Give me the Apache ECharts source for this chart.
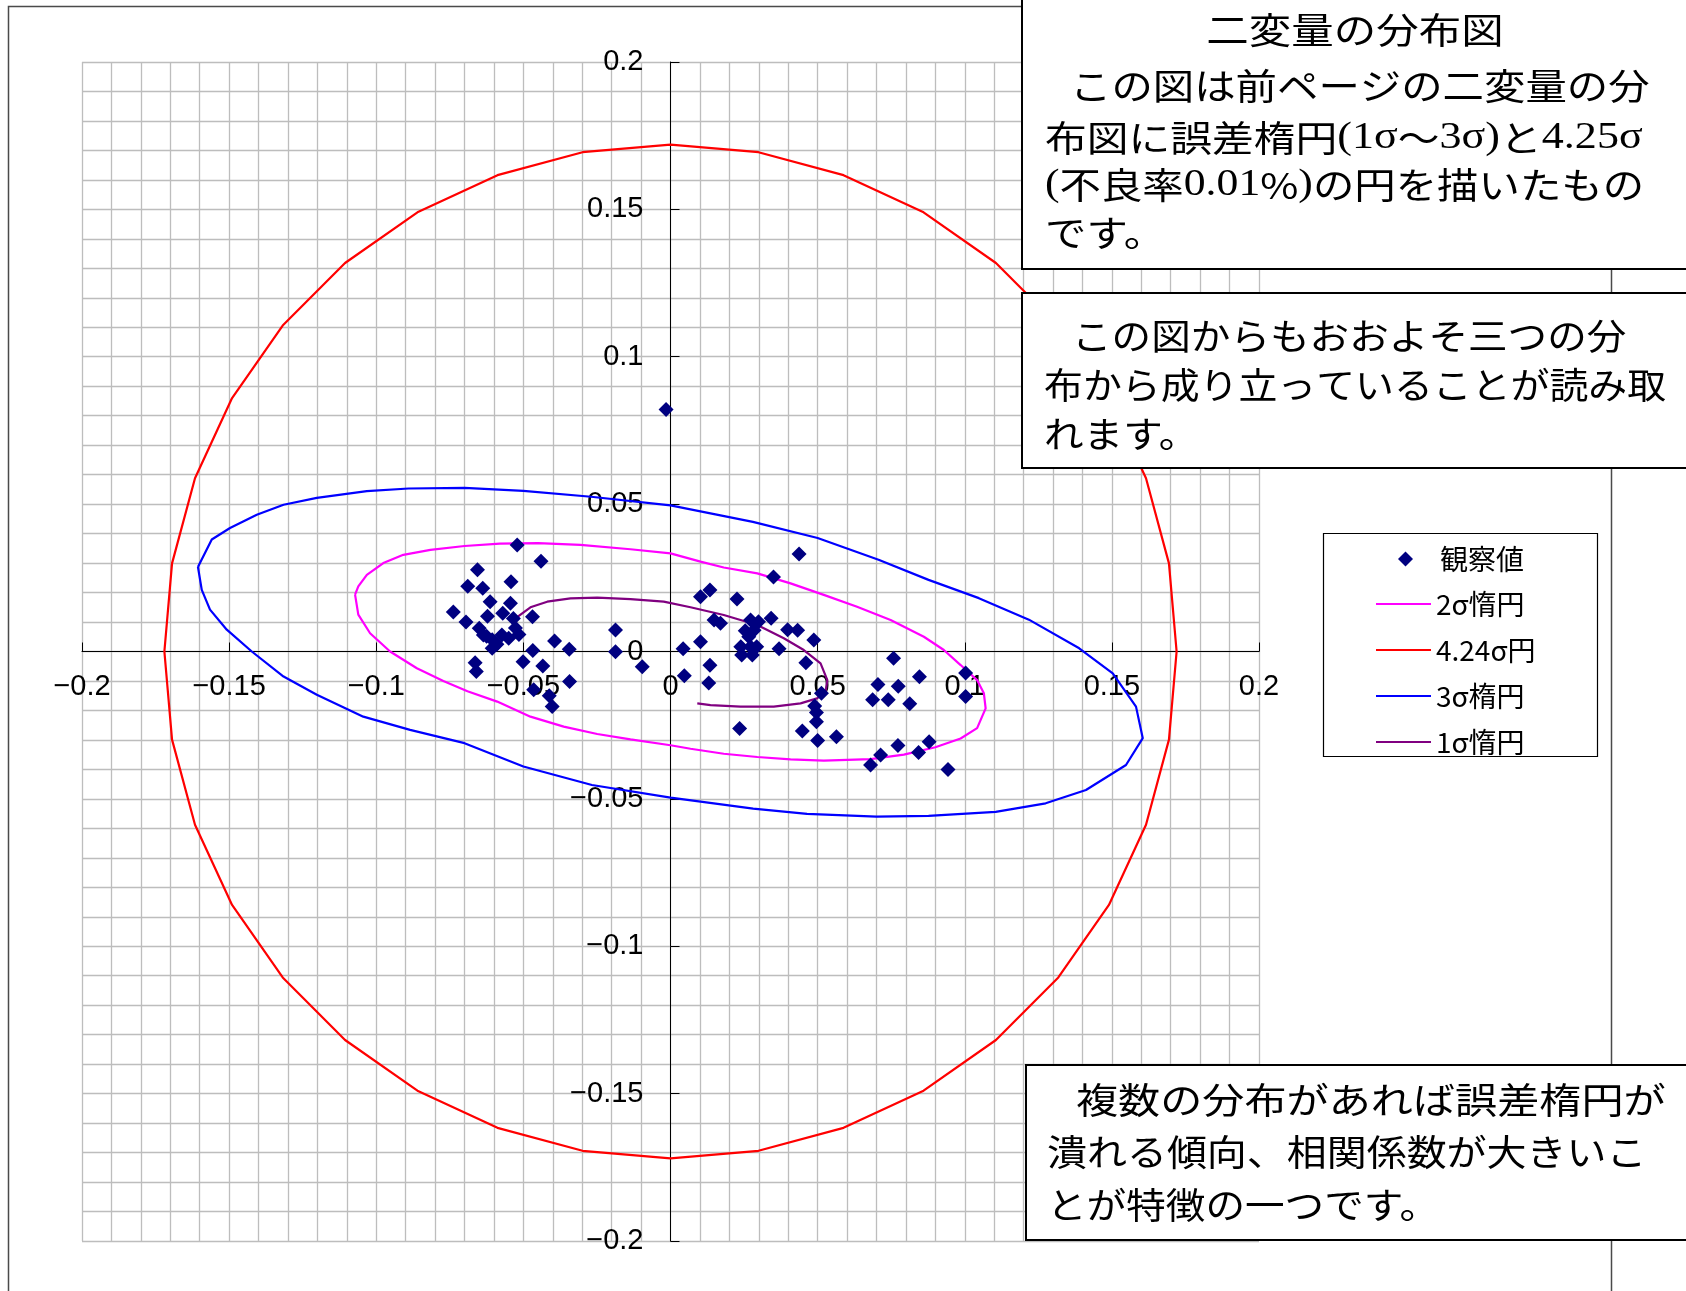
<!DOCTYPE html>
<html>
<head>
<meta charset="utf-8">
<title>二変量の分布図</title>
<script src="https://cdn.jsdelivr.net/npm/echarts@6/dist/echarts.min.js"></script>
<style>
  html, body { margin: 0; padding: 0; background: #fff; }
  #chart { width: 1686px; height: 1291px; }
</style>
</head>
<body>
<div id="chart"></div>
<script>
// axis range and ticks
var axisMin = -0.2;
var axisMax = 0.2;
var labelStep = 0.05;
var gridSplit = 5; // minor grid every 0.01

var legendNames = ['観察値', '2σ惰円', '4.24σ円', '3σ楕円', '1σ惰円'];

// observed points [x, y]
var observed = [
  [-0.0521, 0.0361], [-0.0440, 0.0306], [-0.0656, 0.0277], [-0.0689, 0.0221],
  [-0.0638, 0.0215], [-0.0542, 0.0237], [-0.0613, 0.0169], [-0.0544, 0.0164],
  [-0.0738, 0.0134], [-0.0622, 0.0120], [-0.0570, 0.0130], [-0.0469, 0.0118],
  [-0.0695, 0.0100], [-0.0650, 0.0079], [-0.0534, 0.0112], [-0.0527, 0.0080],
  [-0.0515, 0.0058], [-0.0636, 0.0056], [-0.0606, 0.0040], [-0.0573, 0.0056],
  [-0.0606, 0.0011], [-0.0590, 0.0025], [-0.0550, 0.0045], [-0.0625, 0.0052],
  [-0.0664, -0.0038], [-0.0660, -0.0068], [-0.0394, 0.0036], [-0.0344, 0.0008],
  [-0.0468, 0.0003], [-0.0501, -0.0035], [-0.0434, -0.0049], [-0.0343, -0.0102],
  [-0.0465, -0.0130], [-0.0412, -0.0150], [-0.0402, -0.0187],
  [-0.0187, 0.0073], [-0.0187, -0.0001], [-0.0096, -0.0052], [-0.0015, 0.0821],
  [0.0043, 0.0009], [0.0047, -0.0082], [0.0102, 0.0033], [0.0134, -0.0047],
  [0.0130, -0.0107], [0.0102, 0.0186], [0.0134, 0.0209], [0.0148, 0.0107],
  [0.0170, 0.0096], [0.0226, 0.0178], [0.0235, -0.0261], [0.0350, 0.0253],
  [0.0437, 0.0331], [0.0272, 0.0107], [0.0299, 0.0101], [0.0342, 0.0113],
  [0.0254, 0.0070], [0.0284, 0.0072], [0.0266, 0.0050], [0.0239, 0.0016],
  [0.0272, 0.0016], [0.0293, 0.0016], [0.0242, -0.0012], [0.0278, -0.0012],
  [0.0369, 0.0009], [0.0398, 0.0074], [0.0432, 0.0072], [0.0487, 0.0039],
  [0.0460, -0.0038], [0.0513, -0.0142], [0.0490, -0.0185], [0.0496, -0.0207],
  [0.0496, -0.0238], [0.0448, -0.0270], [0.0500, -0.0302], [0.0564, -0.0289],
  [0.0758, -0.0023], [0.0846, -0.0086], [0.1003, -0.0073], [0.0705, -0.0112],
  [0.0774, -0.0118], [0.0687, -0.0164], [0.0740, -0.0164], [0.0813, -0.0177],
  [0.1003, -0.0153], [0.0879, -0.0306], [0.0773, -0.0319], [0.0843, -0.0343],
  [0.0714, -0.0351], [0.0680, -0.0385], [0.0943, -0.0400]
];

// 2 sigma ellipse
var ellipse2 = [
  [-0.1072, 0.0193], [-0.1061, 0.0221], [-0.1032, 0.0260], [-0.0976, 0.0300],
  [-0.0908, 0.0328], [-0.0816, 0.0345], [-0.0700, 0.0358], [-0.0580, 0.0366],
  [-0.0450, 0.0368], [-0.0306, 0.0362], [-0.0136, 0.0347], [0, 0.0333],
  [0.0102, 0.0305], [0.0181, 0.0285], [0.0295, 0.0265], [0.0408, 0.0231],
  [0.0521, 0.0192], [0.0634, 0.0152], [0.0748, 0.0107], [0.0861, 0.0050],
  [0.0929, 0.0005], [0.0986, -0.0046], [0.1042, -0.0097], [0.1065, -0.0142],
  [0.1071, -0.0193], [0.1042, -0.0260], [0.0986, -0.0295], [0.0900, -0.0325],
  [0.0793, -0.0350], [0.0680, -0.0365], [0.0521, -0.0370], [0.0408, -0.0366],
  [0.0295, -0.0358], [0.0181, -0.0347], [0.0068, -0.0330], [0, -0.0318],
  [-0.0136, -0.0298], [-0.0249, -0.0280], [-0.0363, -0.0255], [-0.0476, -0.0221],
  [-0.0589, -0.0170], [-0.0690, -0.0135], [-0.0772, -0.0100], [-0.0862, -0.0057],
  [-0.0953, 0], [-0.1021, 0.0062], [-0.1061, 0.0125], [-0.1072, 0.0193]
];

// 4.24 sigma circle
var circle424 = [
  [0.1720, 0], [0.1694, 0.0299], [0.1616, 0.0588], [0.1490, 0.0860],
  [0.1318, 0.1106], [0.1106, 0.1318], [0.0860, 0.1490], [0.0588, 0.1616],
  [0.0299, 0.1694], [0, 0.1720], [-0.0299, 0.1694], [-0.0588, 0.1616],
  [-0.0860, 0.1490], [-0.1106, 0.1318], [-0.1318, 0.1106], [-0.1490, 0.0860],
  [-0.1616, 0.0588], [-0.1694, 0.0299], [-0.1720, 0], [-0.1694, -0.0299],
  [-0.1616, -0.0588], [-0.1490, -0.0860], [-0.1318, -0.1106], [-0.1106, -0.1318],
  [-0.0860, -0.1490], [-0.0588, -0.1616], [-0.0299, -0.1694], [0, -0.1720],
  [0.0299, -0.1694], [0.0588, -0.1616], [0.0860, -0.1490], [0.1106, -0.1318],
  [0.1318, -0.1106], [0.1490, -0.0860], [0.1616, -0.0588], [0.1694, -0.0299],
  [0.1720, 0]
];

// 3 sigma ellipse
var ellipse3 = [
  [-0.1606, 0.0287], [-0.1559, 0.0380], [-0.1497, 0.0419], [-0.1406, 0.0464],
  [-0.1315, 0.0498], [-0.1202, 0.0521], [-0.1032, 0.0544], [-0.0890, 0.0553],
  [-0.0700, 0.0555], [-0.0500, 0.0545], [-0.0270, 0.0525], [0, 0.0496],
  [0.0280, 0.0440], [0.0500, 0.0385], [0.0707, 0.0311], [0.0877, 0.0243],
  [0.1048, 0.0181], [0.1218, 0.0108], [0.1389, 0.0011], [0.1503, -0.0074],
  [0.1582, -0.0187], [0.1605, -0.0294], [0.1548, -0.0385], [0.1412, -0.0470],
  [0.1275, -0.0515], [0.1105, -0.0544], [0.0877, -0.0558], [0.0700, -0.0560],
  [0.0464, -0.0551], [0.0281, -0.0533], [0, -0.0496], [-0.0267, -0.0453],
  [-0.0500, -0.0390], [-0.0700, -0.0311], [-0.0885, -0.0266], [-0.1044, -0.0221],
  [-0.1202, -0.0147], [-0.1315, -0.0085], [-0.1423, 0], [-0.1508, 0.0074],
  [-0.1565, 0.0142], [-0.1593, 0.0209], [-0.1606, 0.0287]
];

// 1 sigma ellipse (open curve as in the source)
var ellipse1 = [
  [-0.0519, 0.0118], [-0.0476, 0.0150], [-0.0419, 0.0169], [-0.0340, 0.0180],
  [-0.0249, 0.0183], [-0.0136, 0.0178], [-0.0023, 0.0169], [0.0068, 0.0150],
  [0.0181, 0.0124], [0.0295, 0.0090], [0.0385, 0.0045], [0.0453, 0.0005],
  [0.0510, -0.0040], [0.0533, -0.0097], [0.0527, -0.0136], [0.0498, -0.0159],
  [0.0442, -0.0176], [0.0351, -0.0187], [0.0238, -0.0187], [0.0136, -0.0182],
  [0.0091, -0.0176]
];

var jpFont = '"Noto Sans CJK JP", "Noto Sans CJK SC", sans-serif';
var serifFont = '"Liberation Serif", "DejaVu Serif", serif';
var numFont = '"Liberation Sans", Arial, sans-serif';

// plot box (pixels)
var plotLeft = 82, plotTop = 62, plotW = 1177, plotH = 1179;

function fmtTick(v) {
  return String(+(+v).toFixed(2)).replace('-', '\u2212');
}

function noteLine(x, y, text, scale, align) {
  return {
    type: 'text', x: x, y: y, scaleX: scale, z: 12,
    style: {
      text: text, fill: '#000',
      font: '36px ' + jpFont,
      fontSize: 36, fontFamily: jpFont,
      textAlign: align || 'left', align: align || 'left',
      textVerticalAlign: 'middle', verticalAlign: 'middle',
      rich: {
        j: { fontSize: 36, fontFamily: jpFont, fill: '#000' },
        s: { fontSize: 38, fontFamily: serifFont, fill: '#000' }
      }
    }
  };
}

function noteBox(x, y, w, h) {
  return {
    type: 'rect', z: 11,
    shape: { x: x, y: y, width: w, height: h },
    style: { fill: '#fff', stroke: '#000', lineWidth: 2 }
  };
}

var chart = echarts.init(document.getElementById('chart'));

// axes sit at the zero lines, moved there with offset
function axisOpt(labelMargin, offset) {
  return {
    type: 'value',
    min: axisMin,
    max: axisMax,
    interval: labelStep,
    offset: offset,
    axisLine: { onZero: false, lineStyle: { color: '#000', width: 1 } },
    axisTick: { show: true, inside: true, length: 9, lineStyle: { color: '#000', width: 1 } },
    axisLabel: {
      margin: labelMargin, fontSize: 29, fontFamily: numFont, color: '#000',
      showMinLabel: true, showMaxLabel: true, hideOverlap: false, formatter: fmtTick
    },
    splitLine: { show: true, lineStyle: { color: '#bdbdbd', width: 1.3 } },
    minorTick: { show: false, splitNumber: gridSplit },
    minorSplitLine: { show: true, lineStyle: { color: '#bdbdbd', width: 1.3 } }
  };
}

function curve(name, data, color) {
  return {
    name: name, type: 'line', data: data,
    symbol: 'none', showSymbol: false, smooth: false, z: 2,
    lineStyle: { color: color, width: 2.2 },
    itemStyle: { color: color }
  };
}

var legendText = { fontSize: 28, lineHeight: 26, fontFamily: jpFont, color: '#000' };

var lineLegendData = legendNames.slice(1).map(function (n) {
  return { name: n, itemStyle: { opacity: 0 } };
});

var option = {
  backgroundColor: '#fff',
  animation: false,
  grid: {
    left: plotLeft, top: plotTop, width: plotW, height: plotH,
    containLabel: false, outerBoundsMode: 'none'
  },
  xAxis: axisOpt(21, -(plotH / 2)),
  yAxis: axisOpt(27, -(plotW / 2)),
  legend: [
    {
      // marker item
      orient: 'vertical',
      left: 1393, top: 540,
      itemWidth: 15, itemHeight: 15,
      selectedMode: false,
      textStyle: Object.assign({ padding: [0, 0, 0, 22] }, legendText),
      data: [legendNames[0]]
    },
    {
      // line items
      orient: 'vertical',
      left: 1370, top: 585,
      itemWidth: 55, itemHeight: 14, itemGap: 18,
      selectedMode: false,
      textStyle: legendText,
      data: lineLegendData
    }
  ],
  series: [
    {
      name: legendNames[0], type: 'scatter', data: observed,
      symbol: 'diamond', symbolSize: 15, z: 5,
      itemStyle: { color: '#000080', opacity: 1 }
    },
    curve(legendNames[1], ellipse2, '#ff00ff'),
    curve(legendNames[2], circle424, '#ff0000'),
    curve(legendNames[3], ellipse3, '#0000ff'),
    curve(legendNames[4], ellipse1, '#800080')
  ],
  graphic: [
    // outer chart frame
    {
      type: 'rect', z: 0, silent: true,
      shape: { x: 8.5, y: 6.5, width: 1603, height: 1320 },
      style: { fill: 'none', stroke: '#4a4a4a', lineWidth: 1.5 }
    },
    // legend frame
    {
      type: 'rect', z: 1, silent: true,
      shape: { x: 1323.5, y: 533.5, width: 274, height: 223 },
      style: { fill: '#fff', stroke: '#000', lineWidth: 1.2 }
    },
    noteBox(1022, -3, 720, 272),
    noteLine(1355, 30, '二変量の分布図', 1.18, 'center'),
    noteLine(1070, 86, 'この図は前ページの二変量の分', 1.15),
    noteLine(1045, 138, '{j|布図に誤差楕円}{s|(1σ}{j|～}{s|3σ)}{j|と}{s|4.25σ}', 1.16),
    noteLine(1045, 185, '{s|(}{j|不良率}{s|0.01}{j|%}{s|)}{j|の円を描いたもの}', 1.15),
    noteLine(1045, 233, 'です。', 1.15),

    noteBox(1022, 293, 720, 175),
    noteLine(1072, 336, 'この図からもおおよそ三つの分', 1.1),
    noteLine(1044, 385, '布から成り立っていることが読み取', 1.08),
    noteLine(1044, 434, 'れます。', 1.1),

    noteBox(1026, 1065, 720, 175),
    noteLine(1076, 1100, '複数の分布があれば誤差楕円が', 1.17),
    noteLine(1047, 1152, '潰れる傾向、相関係数が大きいこ', 1.11),
    noteLine(1047, 1205, 'とが特徴の一つです。', 1.1)
  ]
};

chart.setOption(option);
</script>
</body>
</html>
